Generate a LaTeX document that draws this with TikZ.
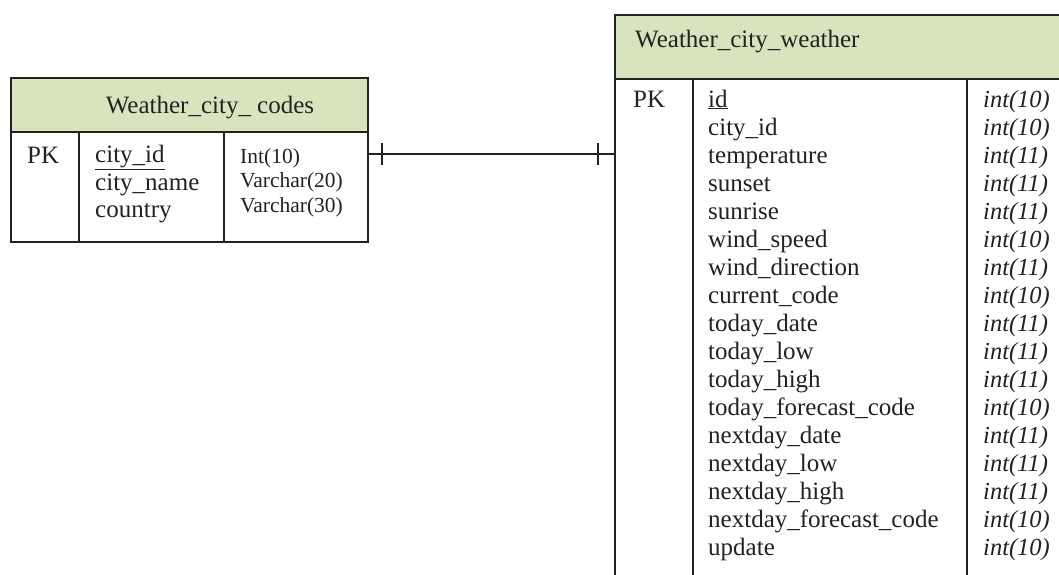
\documentclass[tikz,border=0pt]{standalone}
\usepackage{fontspec}
\setmainfont{Liberation Serif}
\usetikzlibrary{calc}
\definecolor{headfill}{HTML}{D7E4BD}
\definecolor{ink}{HTML}{222222}
\tikzset{
  tbl/.style={draw=ink, line width=1.5pt, rectangle, inner sep=0pt, outer sep=0pt, anchor=north west},
  head/.style={tbl, fill=headfill},
  big/.style={font=\fontsize{25}{28}\selectfont, text=ink, inner sep=0pt, anchor=base west},
  small/.style={font=\fontsize{21.5}{24}\selectfont, text=ink, inner sep=0pt, anchor=base west},
  typ/.style={big, font=\fontsize{24.5}{28}\selectfont\itshape},
  divider/.style={draw=ink, line width=1.5pt},
  rel/.style={draw=ink, line width=1.5pt},
}
\begin{document}
\begin{tikzpicture}[x=1pt, y=-1pt]
\useasboundingbox (0,0) rectangle (1059,574);
\clip (0,0) rectangle (1059,574);
\fill[white] (0,0) rectangle (1059,574);

% ---- left table ----
\node[tbl, minimum width=357pt, minimum height=164pt] (codes) at (11,78) {};
\node[head, minimum width=357pt, minimum height=54pt] (codesHead) at (11,78) {};
\draw[divider] (79,132) -- (79,242);
\draw[divider] (224,132) -- (224,242);
\node[big, anchor=base] (codesTitle) at (210,113) {Weather\_city\_ codes};
\node[big] (codesPK) at (27,163) {PK};
\node[big] (c1) at (95,162) {\underline{city\_id}};
\node[big] (c2) at (95,190) {city\_name};
\node[big] (c3) at (95,217) {country};
\node[small] (t1) at (240,163) {Int(10)};
\node[small] (t2) at (240,187) {Varchar(20)};
\node[small] (t3) at (240,212) {Varchar(30)};

% ---- right table ----
\node[tbl, minimum width=520pt, minimum height=600pt] (weather) at (615,15) {};
\node[head, minimum width=520pt, minimum height=64pt] (weatherHead) at (615,15) {};
\draw[divider] (693,79) -- (693,620);
\draw[divider] (967,79) -- (967,620);
\node[big] (weatherTitle) at (635,47) {Weather\_city\_weather};
\node[big] (weatherPK) at (633,107) {PK};
\foreach \name/\typ [count=\i from 0] in {
  \underline{id}/int(10),
  city\_id/int(10),
  temperature/int(11),
  sunset/int(11),
  sunrise/int(11),
  wind\_speed/int(10),
  wind\_direction/int(11),
  current\_code/int(10),
  today\_date/int(11),
  today\_low/int(11),
  today\_high/int(11),
  today\_forecast\_code/int(10),
  nextday\_date/int(11),
  nextday\_low/int(11),
  nextday\_high/int(11),
  nextday\_forecast\_code/int(10),
  update/int(10)} {
  \node[big] (w\i) at (708,107+28*\i) {\name};
  \node[typ] (wt\i) at (983,107+28*\i) {\typ};
}

% ---- relationship ----
\coordinate (relA) at ($(codes.east)+(0,-6)$);
\coordinate (relB) at (weather.west |- relA);
\draw[rel] (relA) -- (relB);
\draw[rel] ($(relA)+(14,-11)$) -- ($(relA)+(14,11)$);
\draw[rel] ($(relB)+(-17,-11)$) -- ($(relB)+(-17,11)$);
\end{tikzpicture}
\end{document}
